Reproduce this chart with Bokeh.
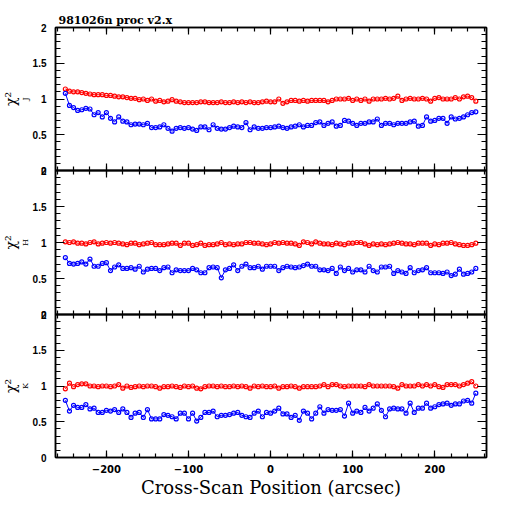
from bokeh.plotting import figure
from bokeh.models import (Range1d, LinearAxis, SingleIntervalTicker, Title,
                          CustomJSTickFormatter)
from bokeh.layouts import column
from bokeh.embed import file_html
from bokeh.resources import INLINE

# ---------------- data ----------------
positions = list(range(-250, 251, 5))   # cross-scan position (arcsec)

chi2_J_red = [1.14, 1.11, 1.10, 1.10, 1.09, 1.08, 1.07, 1.06, 1.06, 1.06,
              1.05, 1.05, 1.04, 1.03, 1.03, 1.02, 1.01, 1.01, 0.99, 1.00,
              0.98, 1.00, 0.97, 0.98, 0.96, 0.97, 0.99, 0.97, 0.96, 0.95,
              0.95, 0.95, 0.95, 0.96, 0.96, 0.95, 0.95, 0.95, 0.96, 0.95,
              0.95, 0.96, 0.95, 0.96, 0.95, 0.96, 0.95, 0.95, 0.96, 0.97,
              0.96, 0.96, 1.00, 0.94, 0.96, 0.98, 0.98, 0.97, 0.98, 0.97,
              0.98, 0.98, 0.98, 0.98, 0.96, 0.98, 1.00, 1.00, 1.00, 1.01,
              0.98, 1.00, 0.98, 1.00, 0.97, 1.00, 1.00, 1.00, 1.01, 1.00,
              1.01, 1.04, 0.98, 1.00, 1.01, 1.00, 1.00, 1.01, 1.00, 0.97,
              1.01, 1.02, 1.00, 1.00, 1.00, 1.02, 1.00, 1.03, 1.04, 1.02,
              0.97]
chi2_J_blue = [1.08, 0.91, 0.88, 0.84, 0.85, 0.87, 0.86, 0.78, 0.81, 0.75,
               0.81, 0.73, 0.68, 0.75, 0.69, 0.68, 0.64, 0.65, 0.65, 0.64,
               0.66, 0.60, 0.60, 0.61, 0.64, 0.59, 0.55, 0.59, 0.60, 0.59,
               0.60, 0.58, 0.56, 0.61, 0.61, 0.57, 0.64, 0.59, 0.58, 0.58,
               0.60, 0.62, 0.61, 0.60, 0.67, 0.57, 0.61, 0.59, 0.59, 0.60,
               0.60, 0.61, 0.62, 0.60, 0.59, 0.61, 0.62, 0.64, 0.61, 0.63,
               0.63, 0.67, 0.68, 0.63, 0.66, 0.68, 0.62, 0.63, 0.70, 0.69,
               0.66, 0.63, 0.66, 0.66, 0.68, 0.68, 0.72, 0.63, 0.66, 0.66,
               0.64, 0.66, 0.66, 0.66, 0.68, 0.69, 0.62, 0.63, 0.75, 0.69,
               0.70, 0.73, 0.73, 0.66, 0.75, 0.72, 0.73, 0.75, 0.78, 0.81,
               0.82]
chi2_H_red = [1.01, 1.00, 1.01, 0.99, 0.99, 0.98, 1.00, 1.01, 0.98, 0.99,
              1.00, 0.99, 1.00, 0.99, 0.98, 0.97, 0.99, 0.99, 0.97, 0.98,
              0.99, 1.00, 0.97, 0.97, 0.97, 0.98, 0.99, 0.99, 0.96, 0.99,
              0.99, 0.96, 0.97, 0.99, 0.96, 0.97, 0.97, 0.98, 1.00, 0.97,
              0.98, 0.97, 0.98, 0.98, 1.00, 1.00, 0.99, 0.99, 0.98, 0.97,
              0.98, 1.00, 0.99, 1.00, 0.99, 0.99, 0.98, 0.96, 1.01, 1.00,
              0.98, 1.01, 0.99, 0.98, 0.98, 0.97, 0.99, 0.98, 0.97, 0.99,
              0.99, 1.00, 1.00, 0.98, 0.96, 0.98, 0.97, 0.98, 0.97, 0.98,
              0.99, 1.00, 0.99, 0.98, 0.98, 0.97, 0.99, 0.99, 0.99, 0.96,
              0.98, 0.97, 0.99, 0.99, 1.00, 0.98, 0.97, 0.96, 0.96, 0.97,
              0.99]
chi2_H_blue = [0.79, 0.71, 0.70, 0.71, 0.73, 0.70, 0.77, 0.67, 0.67, 0.71,
               0.72, 0.61, 0.66, 0.69, 0.64, 0.64, 0.65, 0.63, 0.67, 0.59,
               0.63, 0.64, 0.64, 0.61, 0.65, 0.66, 0.58, 0.62, 0.61, 0.61,
               0.61, 0.64, 0.62, 0.58, 0.58, 0.65, 0.66, 0.65, 0.51, 0.62,
               0.64, 0.69, 0.61, 0.67, 0.70, 0.65, 0.65, 0.67, 0.63, 0.67,
               0.67, 0.67, 0.61, 0.65, 0.67, 0.66, 0.65, 0.66, 0.68, 0.70,
               0.67, 0.67, 0.62, 0.62, 0.61, 0.64, 0.57, 0.66, 0.61, 0.64,
               0.59, 0.62, 0.62, 0.59, 0.67, 0.61, 0.59, 0.66, 0.66, 0.67,
               0.57, 0.61, 0.59, 0.57, 0.65, 0.58, 0.61, 0.62, 0.65, 0.58,
               0.58, 0.58, 0.57, 0.59, 0.54, 0.56, 0.63, 0.56, 0.57, 0.59,
               0.64]
chi2_K_red = [0.96, 1.04, 0.99, 1.02, 1.03, 1.03, 1.00, 1.00, 0.99, 1.00,
              1.00, 0.99, 1.00, 1.02, 0.97, 1.00, 0.98, 0.99, 1.00, 0.99,
              1.00, 1.00, 0.99, 0.97, 0.99, 0.99, 1.00, 0.99, 0.98, 1.00,
              0.99, 1.00, 0.97, 0.96, 0.99, 1.00, 1.00, 0.99, 1.00, 0.99,
              0.99, 1.00, 0.99, 1.00, 0.99, 0.97, 1.00, 0.99, 1.00, 0.99,
              0.99, 1.00, 0.97, 0.99, 0.99, 1.00, 0.99, 0.97, 0.99, 0.99,
              0.99, 0.99, 1.00, 1.02, 0.99, 1.02, 1.02, 1.00, 0.99, 1.00,
              1.00, 1.00, 1.00, 0.99, 1.02, 1.00, 1.00, 1.00, 1.00, 1.00,
              0.99, 0.97, 1.02, 1.00, 1.00, 1.00, 1.02, 1.00, 1.02, 1.00,
              1.02, 0.99, 0.98, 1.02, 1.02, 1.02, 1.00, 1.02, 1.04, 1.06,
              1.00]
chi2_K_blue = [0.80, 0.65, 0.73, 0.70, 0.70, 0.74, 0.68, 0.69, 0.63, 0.63,
               0.66, 0.65, 0.67, 0.63, 0.68, 0.63, 0.56, 0.62, 0.63, 0.56,
               0.67, 0.54, 0.54, 0.54, 0.60, 0.59, 0.57, 0.54, 0.62, 0.62,
               0.54, 0.62, 0.51, 0.56, 0.63, 0.63, 0.65, 0.57, 0.59, 0.59,
               0.60, 0.62, 0.63, 0.59, 0.57, 0.56, 0.62, 0.65, 0.57, 0.63,
               0.62, 0.65, 0.69, 0.61, 0.61, 0.56, 0.59, 0.52, 0.65, 0.62,
               0.54, 0.62, 0.71, 0.62, 0.67, 0.66, 0.66, 0.67, 0.58, 0.76,
               0.62, 0.65, 0.63, 0.70, 0.65, 0.69, 0.75, 0.66, 0.57, 0.68,
               0.69, 0.68, 0.68, 0.62, 0.76, 0.63, 0.69, 0.69, 0.76, 0.69,
               0.71, 0.74, 0.75, 0.76, 0.73, 0.75, 0.75, 0.79, 0.80, 0.76,
               0.90]

bands = ["J", "H", "K"]
red_series = [chi2_J_red, chi2_H_red, chi2_K_red]
blue_series = [chi2_J_blue, chi2_H_blue, chi2_K_blue]
y_tick_labels = {0: "0", 0.5: "0.5", 1: "1", 1.5: "1.5", 2: "2"}
title_text = "981026n proc v2.x"
x_label = "Cross-Scan Position (arcsec)"
chi_text = "χ²"

# ---------------- styling ----------------
RED = "#ff0000"
BLUE = "#0000ff"
Y_TICK_FONT = "Liberation Sans"
X_TICK_FONT = "DejaVu Sans"
SERIF = "DejaVu Serif"
FRAME_W = 431
X_MIN, X_MAX = -262, 263
GAP = 8          # transparent border above/below inner frames (for edge labels)

x_range = Range1d(X_MIN, X_MAX)


def base_axis(ax, ticker, major_len, minor_len):
    ax.ticker = ticker
    ax.major_tick_in = major_len
    ax.major_tick_out = 0
    ax.minor_tick_in = minor_len
    ax.minor_tick_out = 0
    ax.axis_line_color = "black"
    ax.axis_line_width = 1.5
    ax.major_tick_line_color = "black"
    ax.major_tick_line_width = 1.2
    ax.minor_tick_line_color = "black"
    ax.minor_tick_line_width = 1.2


def blank_labels(ax):
    ax.formatter = CustomJSTickFormatter(code="return ''")
    ax.major_label_text_font_size = "0px"
    ax.major_label_standoff = 0


def xticker():
    return SingleIntervalTicker(interval=100, num_minor_ticks=5)


def yticker():
    return SingleIntervalTicker(interval=0.5, num_minor_ticks=5)


def make_panel(i, frame_h, top_border, bottom_border, margin):
    p = figure(frame_width=FRAME_W, frame_height=frame_h,
               x_range=x_range, y_range=Range1d(0, 2),
               output_backend="svg", toolbar_location=None,
               x_axis_location=None, y_axis_location=None,
               min_border_left=54, min_border_right=20,
               min_border_top=top_border, min_border_bottom=bottom_border,
               margin=margin)
    p.grid.visible = False
    p.outline_line_color = "black"
    p.outline_line_width = 1.5
    p.background_fill_color = None
    p.border_fill_color = None

    left = LinearAxis()
    base_axis(left, yticker(), 9, 5)
    left.major_label_overrides = y_tick_labels
    left.major_label_text_font = Y_TICK_FONT
    left.major_label_text_font_style = "bold"
    left.major_label_text_font_size = "10px"
    left.major_label_text_color = "black"
    left.major_label_standoff = 9
    p.add_layout(left, "left")

    right = LinearAxis()
    base_axis(right, yticker(), 9, 5)
    blank_labels(right)
    p.add_layout(right, "right")

    top = LinearAxis()
    base_axis(top, xticker(), 7, 4)
    blank_labels(top)
    p.add_layout(top, "above")

    bottom = LinearAxis()
    base_axis(bottom, xticker(), 7, 4)
    if i == 2:
        bottom.major_label_text_font = X_TICK_FONT
        bottom.major_label_text_font_style = "bold"
        bottom.major_label_text_font_size = "10px"
        bottom.major_label_text_color = "black"
        bottom.major_label_standoff = 7
        bottom.axis_label = x_label
        bottom.axis_label_text_font = SERIF
        bottom.axis_label_text_font_style = "normal"
        bottom.axis_label_text_font_size = "18px"
        bottom.axis_label_text_color = "black"
        bottom.axis_label_standoff = 1
    else:
        blank_labels(bottom)
    p.add_layout(bottom, "below")

    # y label: chi^2 with the band as subscript (rotated, reading upward)
    p.add_layout(Title(text=bands[i], align="center", offset=10, standoff=0,
                       text_font=SERIF, text_font_size="8px",
                       text_font_style="normal", text_color="black"), "left")
    p.add_layout(Title(text=chi_text, align="center", offset=-2, standoff=0,
                       text_font=SERIF, text_font_size="14px",
                       text_font_style="normal", text_color="black"), "left")

    for ys, col in ((red_series[i], RED), (blue_series[i], BLUE)):
        p.line(positions, ys, line_color=col, line_width=1)
        p.scatter(positions, ys, marker="circle", size=4, fill_color=None,
                  line_color=col, line_width=1.2)

    if i == 0:
        p.title.text = title_text
        p.title.align = "left"
        p.title.offset = 3
        p.title.standoff = 1
        p.title.text_font = SERIF
        p.title.text_font_size = "11px"
        p.title.text_font_style = "bold"
        p.title.text_color = "black"
    return p


p1 = make_panel(0, 143, 27, GAP, (0, 0, 0, 0))
p2 = make_panel(1, 144, GAP, GAP, (-2 * GAP, 0, 0, 0))
p3 = make_panel(2, 143, GAP, 50, (-2 * GAP, 0, 0, 0))

layout = column(p1, p2, p3, spacing=0)

open("out.html", "w").write(file_html(layout, INLINE))
